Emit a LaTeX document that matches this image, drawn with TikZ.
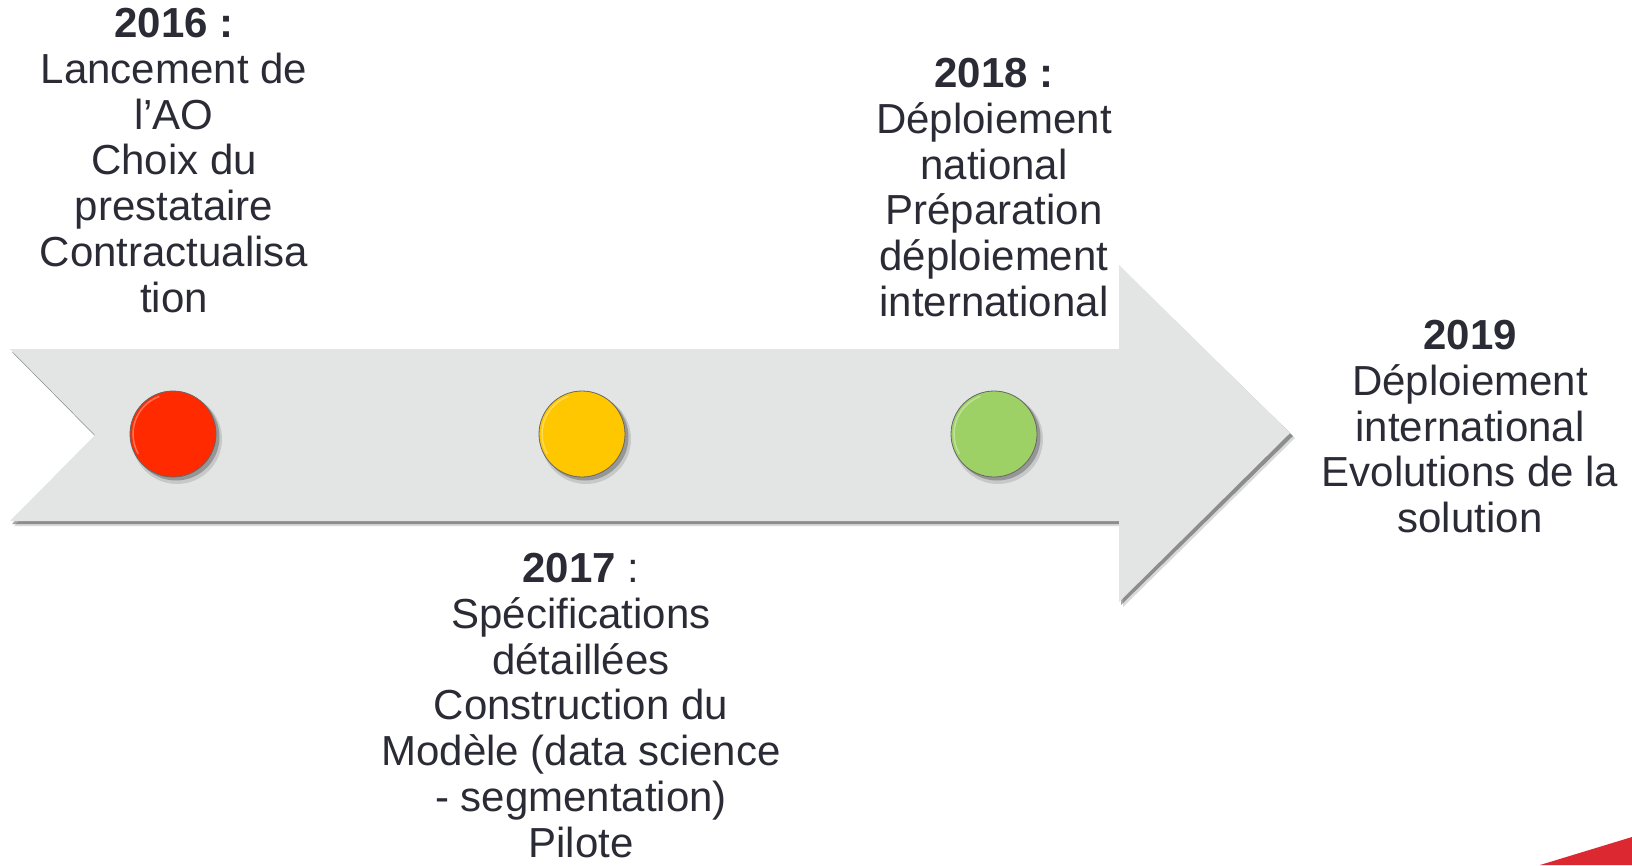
\documentclass[tikz,border=0pt]{standalone}
\usepackage{fontspec}
\setmainfont{Liberation Sans}
\definecolor{arrowfill}{HTML}{E3E5E4}
\definecolor{txt}{HTML}{2B2B36}
\definecolor{cred}{HTML}{FF2A00}
\definecolor{cyellow}{HTML}{FFC700}
\definecolor{cgreen}{HTML}{9DD165}
\definecolor{cornerred}{HTML}{DC2830}
\tikzset{
  label text/.style={anchor=north, align=center, inner sep=0pt, text=txt, font=\fontsize{42}{45.8}\selectfont},
  dot/.style={circle, minimum size=86pt, inner sep=0pt, draw=gray!80!black, line width=0.8pt},
}
\begin{document}
\begin{tikzpicture}[x=1pt,y=-1pt]
\useasboundingbox (0,0) rectangle (1632,865);
% arrow shadow
\fill[black, opacity=0.15] (14,354) -- (1123,354) -- (1123,270) -- (1295,438) -- (1123,607) -- (1123,526) -- (14,526) -- (99,440) -- cycle;
\fill[black, opacity=0.35] (12,352) -- (1121,352) -- (1121,268) -- (1293,436) -- (1121,605) -- (1121,524) -- (12,524) -- (97,438) -- cycle;
% arrow
\fill[arrowfill] (10,349) -- (1119,349) -- (1119,265) -- (1290,433) -- (1119,602) -- (1119,521) -- (10,521) -- (95,435) -- cycle;
% circles shadows
\foreach \cx in {173,582,994}{
  \fill[black, opacity=0.12] (\cx+4,439) circle (45);
  \fill[black, opacity=0.25] (\cx+3,437) circle (43.5);
}
\node[dot, fill=cred] (c16) at (173,434) {};
\node[dot, fill=cyellow] (c17) at (582,434) {};
\node[dot, fill=cgreen] (c18) at (994,434) {};
\foreach \n in {c16,c17,c18}{
  \draw[white, opacity=0.35, line width=1.5pt] (\n.center) ++(150:40) arc (150:250:40);
}
% corner
\fill[cornerred] (1540,865) -- (1632,837) -- (1632,865) -- cycle;
% texts
\node[label text] (t16) at (174,8) {\textbf{2016 :}\\Lancement de\\l’AO\\Choix du\\prestataire\\Contractualisa\\tion};
\node[label text] (t17) at (581,553) {\textbf{2017} :\\Spécifications\\détaillées\\Construction du\\Modèle (data science\\- segmentation)\\Pilote};
\node[label text] (t18) at (994,58) {\textbf{2018 :}\\Déploiement\\national\\Préparation\\déploiement\\international};
\node[label text] (t19) at (1470,320) {\textbf{2019}\\Déploiement\\international\\Evolutions de la\\solution};
\end{tikzpicture}
\end{document}
